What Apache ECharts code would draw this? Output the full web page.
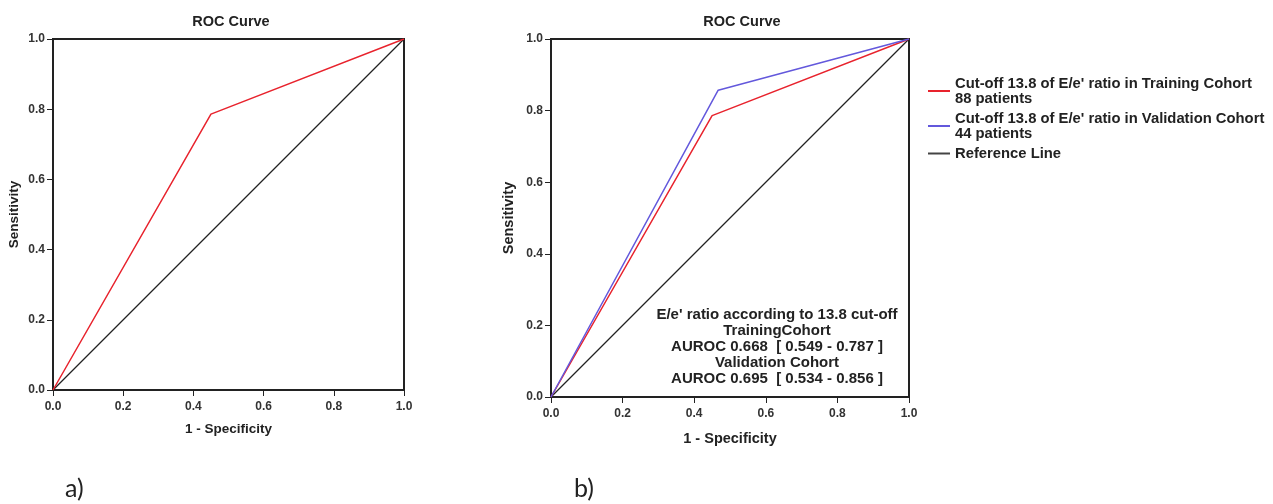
<!DOCTYPE html>
<html>
<head>
<meta charset="utf-8">
<script src="https://cdn.jsdelivr.net/npm/echarts@6/dist/echarts.min.js"></script>
<style>
  html, body { margin: 0; padding: 0; background: #fff; }
  #roc { width: 1273px; height: 504px; }
</style>
</head>
<body>
<div id="roc"></div>
<script>
// ROC points (1 - specificity, sensitivity)
var trainFpr = [0, 0.45, 1];
var trainSens = [0, 0.786, 1];
var validFpr = [0, 0.467, 1];
var validSens = [0, 0.857, 1];
var refFpr = [0, 1];
var refSens = [0, 1];

var trainName = "Cut-off 13.8 of E/e' ratio in Training Cohort\n88 patients";
var validName = "Cut-off 13.8 of E/e' ratio in Validation Cohort\n44 patients";
var refName = "Reference Line";

function pairs(xs, ys) {
  var out = [];
  for (var i = 0; i < xs.length; i++) out.push([xs[i], ys[i]]);
  return out;
}

var FONT = "Liberation Sans, Arial, sans-serif";

function makeAxis(gridIndex, type, nameSize, nameGap) {
  return {
    type: "value",
    gridIndex: gridIndex,
    min: 0,
    max: 1,
    interval: 0.2,
    name: type === "x" ? "1 - Specificity" : "Sensitivity",
    nameLocation: "middle",
    nameGap: nameGap,
    nameTextStyle: { fontFamily: FONT, fontWeight: "bold", fontSize: nameSize, color: "#222" },
    axisLine: { show: true, lineStyle: { color: "#222", width: 2 } },
    axisTick: { show: true, length: 6, lineStyle: { color: "#222", width: 1 } },
    axisLabel: {
      fontFamily: FONT, fontWeight: "bold", fontSize: 12, color: "#333",
      margin: type === "x" ? 11 : 8,
      formatter: function (v) { return v.toFixed(1); }
    },
    splitLine: { show: false }
  };
}

var chart = echarts.init(document.getElementById("roc"));

var titleStyle = { fontFamily: FONT, fontWeight: "bold", fontSize: 14.5, color: "#222" };

var option = {
  animation: false,
  title: [
    { text: "ROC Curve", left: 226, top: 9, textAlign: "center", textStyle: titleStyle },
    { text: "ROC Curve", left: 737, top: 9, textAlign: "center", textStyle: titleStyle }
  ],
  grid: [
    { left: 53, top: 39, width: 351, height: 351, show: true, borderColor: "#222", borderWidth: 2 },
    { left: 551, top: 39, width: 358, height: 358, show: true, borderColor: "#222", borderWidth: 2 }
  ],
  xAxis: [makeAxis(0, "x", 13.5, 32), makeAxis(1, "x", 14.5, 34)],
  yAxis: [makeAxis(0, "y", 13.5, 32), makeAxis(1, "y", 14.5, 35)],
  legend: {
    orient: "vertical",
    left: 923,
    top: 71,
    itemGap: 5,
    itemWidth: 22,
    itemHeight: 2,
    icon: "rect",
    data: [trainName, validName, refName],
    textStyle: { fontFamily: FONT, fontWeight: "bold", fontSize: 14.8, color: "#222", lineHeight: 15 }
  },
  series: [
    { name: "ref-a", type: "line", xAxisIndex: 0, yAxisIndex: 0, data: pairs(refFpr, refSens),
      showSymbol: false, lineStyle: { color: "#222", width: 1.2 }, itemStyle: { color: "#222" } },
    { name: "train-a", type: "line", xAxisIndex: 0, yAxisIndex: 0, data: pairs(trainFpr, trainSens),
      showSymbol: false, lineStyle: { color: "#e8232d", width: 1.5 }, itemStyle: { color: "#e8232d" } },
    { name: refName, type: "line", xAxisIndex: 1, yAxisIndex: 1, data: pairs(refFpr, refSens),
      showSymbol: false, lineStyle: { color: "#222", width: 1.2 }, itemStyle: { color: "#444" } },
    { name: trainName, type: "line", xAxisIndex: 1, yAxisIndex: 1, data: pairs(trainFpr, trainSens),
      showSymbol: false, lineStyle: { color: "#e8232d", width: 1.5 }, itemStyle: { color: "#e8232d" } },
    { name: validName, type: "line", xAxisIndex: 1, yAxisIndex: 1, data: pairs(validFpr, validSens),
      showSymbol: false, lineStyle: { color: "#6358dc", width: 1.5 }, itemStyle: { color: "#6358dc" } }
  ],
  graphic: [
    { type: "text", x: 777, y: 307,
      style: {
        text: "E/e' ratio according to 13.8 cut-off\nTrainingCohort\nAUROC 0.668  [ 0.549 - 0.787 ]\nValidation Cohort\nAUROC 0.695  [ 0.534 - 0.856 ]",
        align: "center", fontFamily: FONT, fontWeight: "bold", fontSize: 15, lineHeight: 16, fill: "#222"
      } },
    { type: "text", x: 65, y: 476,
      style: { text: "a)", fontFamily: "Lato, sans-serif", fontSize: 25, fill: "#222" } },
    { type: "text", x: 574, y: 476,
      style: { text: "b)", fontFamily: "Lato, sans-serif", fontSize: 25, fill: "#222" } }
  ]
};

chart.setOption(option);
</script>
</body>
</html>
